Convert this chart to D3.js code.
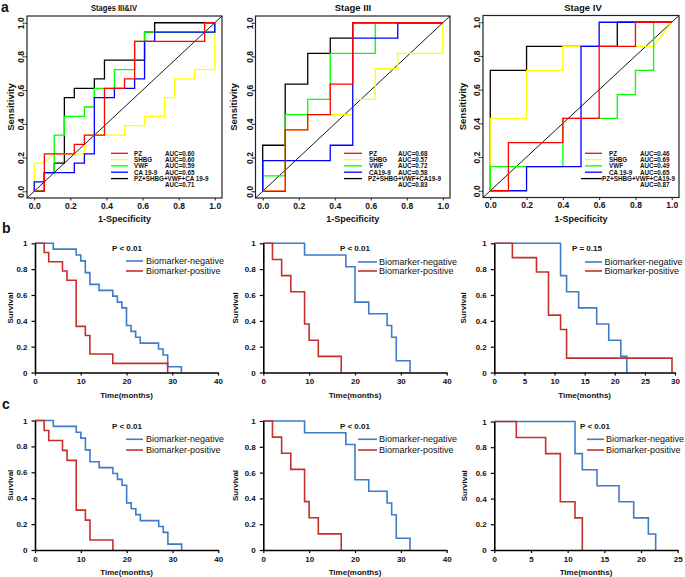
<!DOCTYPE html>
<html><head><meta charset="utf-8">
<script src="https://cdn.jsdelivr.net/npm/d3@7"></script>
<style>
body{margin:0;background:#fff}
svg{display:block;font-family:Arial,"Liberation Sans",sans-serif}
</style>
</head><body>
<svg id="chart" width="685" height="577"></svg>
<script>
// ---------------- DATA ----------------
const rocTitles = ["Stages III&IV", "Stage III", "Stage IV"];
const rocMarkerNames = [
  ["PZ", "SHBG", "VWF", "CA 19-9", "PZ+SHBG+VWF+CA 19-9"],
  ["PZ", "SHBG", "VWF", "CA19-9", "PZ+SHBG+VWF+CA19-9"],
  ["PZ", "SHBG", "VWF", "CA 19-9", "PZ+SHBG+VWF+CA19-9"]
];
const rocAUC = [
  ["0.60", "0.60", "0.59", "0.65", "0.71"],
  ["0.68", "0.57", "0.72", "0.58", "0.83"],
  ["0.46", "0.69", "0.49", "0.65", "0.87"]
];
const rocTicks = [0, 0.2, 0.4, 0.6, 0.8, 1.0];

// ROC curves, vertices [1-specificity, sensitivity]
// Stages III&IV
const roc34PZ = [[0,0],[0.056,0],[0.056,0.222],[0.222,0.222],[0.222,0.278],[0.278,0.278],[0.278,0.333],[0.389,0.333],[0.389,0.611],[0.5,0.611],[0.5,0.667],[0.556,0.667],[0.556,0.889],[0.944,0.889],[0.944,1],[1,1]];
const roc34SHBG = [[0,0],[0,0.167],[0.056,0.167],[0.111,0.222],[0.278,0.222],[0.278,0.333],[0.5,0.333],[0.5,0.389],[0.611,0.389],[0.611,0.444],[0.722,0.444],[0.722,0.556],[0.778,0.556],[0.778,0.667],[0.889,0.667],[0.889,0.722],[1,0.722],[1,1]];
const roc34VWF = [[0,0],[0.056,0],[0.056,0.111],[0.111,0.111],[0.111,0.333],[0.167,0.333],[0.167,0.444],[0.278,0.444],[0.278,0.5],[0.333,0.5],[0.333,0.611],[0.444,0.611],[0.444,0.722],[0.556,0.722],[0.556,0.889],[0.611,0.889],[0.611,0.944],[1,0.944],[1,1]];
const roc34CA = [[0,0],[0,0.056],[0.056,0.056],[0.056,0.111],[0.222,0.111],[0.222,0.167],[0.278,0.167],[0.278,0.222],[0.333,0.222],[0.333,0.556],[0.444,0.556],[0.444,0.611],[0.556,0.611],[0.556,0.667],[0.611,0.667],[0.611,0.889],[0.667,0.889],[0.667,0.944],[1,0.944],[1,1]];
const roc34All = [[0,0],[0.056,0],[0.056,0.111],[0.111,0.111],[0.111,0.167],[0.167,0.167],[0.167,0.556],[0.222,0.556],[0.222,0.611],[0.333,0.611],[0.333,0.667],[0.389,0.667],[0.389,0.778],[0.611,0.778],[0.611,0.944],[0.667,0.944],[0.667,1],[1,1]];
// Stage III
const roc3PZ = [[0,0],[0.125,0],[0.125,0.364],[0.25,0.364],[0.25,0.455],[0.375,0.455],[0.375,0.636],[0.5,0.636],[0.5,1],[1,1]];
const roc3SHBG = [[0,0],[0.125,0],[0.125,0.364],[0.25,0.364],[0.25,0.455],[0.5,0.455],[0.5,0.545],[0.625,0.545],[0.625,0.727],[0.75,0.727],[0.75,0.818],[1,0.818],[1,1]];
const roc3VWF = [[0,0],[0,0.091],[0.125,0.091],[0.125,0.455],[0.25,0.455],[0.25,0.545],[0.375,0.545],[0.375,0.818],[0.625,0.818],[0.625,1],[1,1]];
const roc3CA = [[0,0],[0,0.182],[0.375,0.182],[0.375,0.273],[0.5,0.273],[0.5,0.909],[0.75,0.909],[0.75,1],[1,1]];
const roc3All = [[0,0],[0,0.273],[0.125,0.273],[0.125,0.636],[0.25,0.636],[0.25,0.818],[0.375,0.818],[0.375,0.909],[0.5,0.909],[0.5,1],[1,1]];
// Stage IV
const roc4PZ = [[0,0],[0.1,0],[0.1,0.286],[0.4,0.286],[0.4,0.429],[0.6,0.429],[0.6,0.857],[0.8,0.857],[0.8,1],[1,1]];
const roc4SHBG = [[0,0],[0,0.429],[0.2,0.429],[0.2,0.714],[0.4,0.714],[0.4,0.857],[0.9,0.857],[1,1]];
const roc4VWF = [[0,0],[0,0.143],[0.4,0.143],[0.4,0.429],[0.7,0.429],[0.7,0.571],[0.8,0.571],[0.8,0.714],[0.9,0.714],[0.9,1],[1,1]];
const roc4CA = [[0,0],[0.2,0],[0.2,0.143],[0.5,0.143],[0.5,0.857],[0.6,0.857],[0.6,1],[1,1]];
const roc4All = [[0,0],[0,0.714],[0.2,0.714],[0.2,0.857],[0.7,0.857],[0.7,1],[1,1]];

// Kaplan-Meier curves: event times (months) and survival after each event
const kmTicks = [0, 0.2, 0.4, 0.6, 0.8, 1];
const kmLegend = ["Biomarker-negative", "Biomarker-positive"];
const kmPValues = ["P < 0.01", "P < 0.01", "P = 0.15", "P < 0.01", "P < 0.01", "P < 0.01"];
const kmXTicks40 = [0, 10, 20, 30, 40];
const kmXTicks30 = [0, 5, 10, 15, 20, 25, 30];
const kmXTicks25 = [0, 5, 10, 15, 20, 25];

const kmB1NegTime = [0, 4, 9, 10, 11, 12, 14, 17, 18, 19, 20, 21, 22, 23, 27, 28, 29, 32];
const kmB1NegSurv = [1, 0.955, 0.909, 0.864, 0.773, 0.682, 0.636, 0.591, 0.545, 0.5, 0.364, 0.318, 0.273, 0.227, 0.182, 0.136, 0.045, 0];
const kmB1PosTime = [0, 2, 3, 6, 7, 9, 11, 12, 17, 29];
const kmB1PosSurv = [1, 0.929, 0.857, 0.786, 0.714, 0.357, 0.286, 0.143, 0.071, 0];

const kmB2NegTime = [0, 9, 18, 20, 23, 27, 28, 29, 32];
const kmB2NegSurv = [1, 0.909, 0.818, 0.545, 0.455, 0.364, 0.273, 0.091, 0];
const kmB2PosTime = [0, 2, 4, 6, 9, 10, 12, 17];
const kmB2PosSurv = [1, 0.875, 0.75, 0.625, 0.375, 0.25, 0.125, 0];

const kmB3NegTime = [0, 11, 12, 14, 17, 19, 21, 22];
const kmB3NegSurv = [1, 0.75, 0.625, 0.5, 0.375, 0.25, 0.125, 0];
const kmB3PosTime = [0, 3, 7, 9, 11, 12, 29.5];
const kmB3PosSurv = [1, 0.889, 0.778, 0.444, 0.333, 0.111, 0];

const kmC1NegTime = [0, 4, 9, 10, 11, 12, 14, 17, 18, 19, 20, 21, 22, 23, 27, 28, 29, 32];
const kmC1NegSurv = [1, 0.955, 0.909, 0.864, 0.773, 0.682, 0.636, 0.591, 0.545, 0.5, 0.364, 0.318, 0.273, 0.227, 0.182, 0.136, 0.045, 0];
const kmC1PosTime = [0, 2, 3, 6, 7, 9, 11, 12, 17];
const kmC1PosSurv = [1, 0.923, 0.846, 0.769, 0.692, 0.308, 0.231, 0.077, 0];

const kmC2NegTime = [0, 9, 18, 20, 23, 27, 28, 29, 32];
const kmC2NegSurv = [1, 0.909, 0.818, 0.545, 0.455, 0.364, 0.273, 0.091, 0];
const kmC2PosTime = [0, 2, 4, 6, 9, 10, 12, 17];
const kmC2PosSurv = [1, 0.875, 0.75, 0.625, 0.375, 0.25, 0.125, 0];

const kmC3NegTime = [0, 11, 12, 14, 17, 19, 21, 22];
const kmC3NegSurv = [1, 0.75, 0.625, 0.5, 0.375, 0.25, 0.125, 0];
const kmC3PosTime = [0, 3, 7, 9, 11, 12];
const kmC3PosSurv = [1, 0.875, 0.75, 0.375, 0.25, 0];

// ---------------- STYLE / LAYOUT ----------------
const rocColors = ["#ff0000", "#ffff00", "#00ff00", "#0000ff", "#000000"];
const rocDrawOrder = [4, 1, 2, 3, 0];
const kmNegColor = "#3f7bc8";
const kmPosColor = "#c5302b";
const ink = "#111";

const svg = d3.select("#chart");

// panel letters
[["a", 1, 12], ["b", 2, 233], ["c", 2, 409]].forEach(([t, x, y]) =>
  svg.append("text").attr("x", x).attr("y", y).attr("font-size", 14)
    .attr("font-weight", "bold").attr("fill", ink).text(t));

// ---------------- ROC PANELS ----------------
const rocCurves = [
  [roc34PZ, roc34SHBG, roc34VWF, roc34CA, roc34All],
  [roc3PZ, roc3SHBG, roc3VWF, roc3CA, roc3All],
  [roc4PZ, roc4SHBG, roc4VWF, roc4CA, roc4All]
];
const rocLayout = [
  {l: 27, r: 222, t: 16, b: 198, ylab: 13.7, titleX: 114, titleLen: 46,
   leg: {l0: 111, l1: 128, b0: 111, tx: 134, btx: 134, ax: 165}},
  {l: 255.5, r: 450, t: 16, b: 198, ylab: 237, titleX: 353, titleLen: null,
   leg: {l0: 344, l1: 362, b0: 344, tx: 369, btx: 368, ax: 398}},
  {l: 483, r: 679, t: 15.5, b: 197.5, ylab: 466, titleX: 583, titleLen: null,
   leg: {l0: 585, l1: 602, b0: 581, tx: 609, btx: 602, ax: 640}}
];
const legRows = [153.3, 159.6, 165.9, 172.2, 178.6, 185];

rocLayout.forEach((L, pi) => {
  const g = svg.append("g");
  const x = d3.scaleLinear().domain([-0.04, 1.04]).range([L.l, L.r]);
  const y = d3.scaleLinear().domain([-0.04, 1.04]).range([L.b, L.t]);

  // diagonal reference line
  g.append("line").attr("x1", x(-0.04)).attr("y1", y(-0.04))
    .attr("x2", x(1.04)).attr("y2", y(1.04))
    .attr("stroke", "#000").attr("stroke-width", 0.9);

  const line = d3.line().x(d => x(d[0])).y(d => y(d[1]));
  rocDrawOrder.forEach(ci => {
    g.append("path").datum(rocCurves[pi][ci]).attr("d", line)
      .attr("fill", "none").attr("stroke", rocColors[ci])
      .attr("stroke-width", 1.3);
  });

  // box
  g.append("rect").attr("x", L.l).attr("y", L.t)
    .attr("width", L.r - L.l).attr("height", L.b - L.t)
    .attr("fill", "none").attr("stroke", "#222").attr("stroke-width", 1.2);

  // x axis
  const xa = g.append("g").attr("transform", `translate(0,${L.b})`)
    .call(d3.axisBottom(x).tickValues(rocTicks).tickFormat(d3.format(".1f")).tickSize(2.5).tickSizeOuter(0).tickPadding(2));
  xa.select(".domain").remove();
  xa.selectAll("line").attr("stroke", "#222");
  xa.selectAll("text").attr("font-size", 8.5).attr("font-weight", "bold")
    .attr("font-family", "Arial, 'Liberation Sans', sans-serif").attr("fill", ink);

  // y axis (rotated labels)
  const ya = g.append("g").attr("transform", `translate(${L.l},0)`)
    .call(d3.axisLeft(y).tickValues(rocTicks).tickFormat(d3.format(".1f")).tickSize(2.5).tickSizeOuter(0));
  ya.select(".domain").remove();
  ya.selectAll("line").attr("stroke", "#222");
  ya.selectAll("text").attr("font-size", 8.5).attr("font-weight", "bold")
    .attr("font-family", "Arial, 'Liberation Sans', sans-serif").attr("fill", ink)
    .attr("transform", "rotate(-90)").attr("x", 0).attr("y", -2.6)
    .attr("dy", 0).attr("text-anchor", "middle");

  // titles
  const tt = g.append("text").attr("x", L.titleX).attr("y", 11)
    .attr("text-anchor", "middle").attr("font-size", 9.5).attr("font-weight", "bold")
    .attr("fill", ink).text(rocTitles[pi]);
  if (L.titleLen) tt.attr("textLength", L.titleLen).attr("lengthAdjust", "spacingAndGlyphs");

  g.append("text").attr("transform", `translate(${L.ylab},${(L.t + L.b) / 2}) rotate(-90)`)
    .attr("text-anchor", "middle").attr("font-size", 9.5).attr("font-weight", "bold")
    .attr("fill", ink).text("Sensitivity");
  g.append("text").attr("x", (L.l + L.r) / 2).attr("y", 221.5)
    .attr("text-anchor", "middle").attr("font-size", 9).attr("font-weight", "bold")
    .attr("fill", ink).text("1-Specificity");

  // legend
  const lg = L.leg;
  rocMarkerNames[pi].forEach((name, i) => {
    const ry = legRows[i];
    g.append("line").attr("x1", i === 4 ? lg.b0 : lg.l0).attr("x2", lg.l1)
      .attr("y1", ry).attr("y2", ry).attr("stroke", rocColors[i]).attr("stroke-width", 1.3);
    g.append("text").attr("x", i === 4 ? lg.btx : lg.tx).attr("y", ry + 2.3)
      .attr("font-size", 6.3).attr("font-weight", "bold").attr("fill", ink).text(name);
    const ay = i === 4 ? legRows[5] : ry;
    g.append("text").attr("x", lg.ax).attr("y", ay + 2.3)
      .attr("font-size", 6.3).attr("font-weight", "bold").attr("fill", ink)
      .text("AUC=" + rocAUC[pi][i]);
  });
});

// ---------------- KM PANELS ----------------
const kmData = [
  {neg: [kmB1NegTime, kmB1NegSurv], pos: [kmB1PosTime, kmB1PosSurv], ticks: kmXTicks40},
  {neg: [kmB2NegTime, kmB2NegSurv], pos: [kmB2PosTime, kmB2PosSurv], ticks: kmXTicks40},
  {neg: [kmB3NegTime, kmB3NegSurv], pos: [kmB3PosTime, kmB3PosSurv], ticks: kmXTicks30},
  {neg: [kmC1NegTime, kmC1NegSurv], pos: [kmC1PosTime, kmC1PosSurv], ticks: kmXTicks40},
  {neg: [kmC2NegTime, kmC2NegSurv], pos: [kmC2PosTime, kmC2PosSurv], ticks: kmXTicks40},
  {neg: [kmC3NegTime, kmC3NegSurv], pos: [kmC3PosTime, kmC3PosSurv], ticks: kmXTicks25}
];
const kmLayout = [
  {x0: 35, x1: 218, y0: 372.5, y1: 243.3, survX: 13, pX: 112, pY: 250.5, legL: 126, legR: 143, legT: 146, legY: [261, 271]},
  {x0: 263.3, x1: 446.7, y0: 372.5, y1: 243.3, survX: 238, pX: 340, pY: 250.5, legL: 358, legR: 377, legT: 379, legY: [262, 271]},
  {x0: 494.3, x1: 675, y0: 372.5, y1: 243.3, survX: 466, pX: 572, pY: 250.5, legL: 585, legR: 602, legT: 604.5, legY: [262, 271]},
  {x0: 35, x1: 218.3, y0: 550, y1: 420.5, survX: 13, pX: 112, pY: 428.5, legL: 126, legR: 143, legT: 146, legY: [439.3, 450]},
  {x0: 263.3, x1: 446.7, y0: 550, y1: 421, survX: 238, pX: 340, pY: 428.5, legL: 358, legR: 377, legT: 379, legY: [439.3, 450]},
  {x0: 494.3, x1: 677.7, y0: 550, y1: 421.5, survX: 467, pX: 580, pY: 428.5, legL: 587, legR: 604, legT: 606, legY: [439.3, 450]}
];

kmLayout.forEach((L, pi) => {
  const D = kmData[pi];
  const g = svg.append("g");
  const tmax = D.ticks[D.ticks.length - 1];
  const x = d3.scaleLinear().domain([0, tmax]).range([L.x0, L.x1]);
  const y = d3.scaleLinear().domain([0, 1]).range([L.y0, L.y1]);
  const step = d3.line().x(d => x(d[0])).y(d => y(d[1])).curve(d3.curveStepAfter);

  [[D.neg, kmNegColor], [D.pos, kmPosColor]].forEach(([s, col]) => {
    const pts = s[0].map((t, i) => [t, s[1][i]]);
    g.append("path").datum(pts).attr("d", step).attr("fill", "none")
      .attr("stroke", col).attr("stroke-width", 1.6);
  });

  const xa = g.append("g").attr("transform", `translate(0,${L.y0})`)
    .call(d3.axisBottom(x).tickValues(D.ticks).tickFormat(d3.format("d")).tickSize(3).tickSizeOuter(0).tickPadding(3));
  xa.select(".domain").attr("stroke", "#000").attr("stroke-width", 1.6);
  xa.selectAll("line").attr("stroke", "#000").attr("stroke-width", 1.2);
  xa.selectAll("text").attr("font-size", 8).attr("font-weight", "bold")
    .attr("font-family", "Arial, 'Liberation Sans', sans-serif").attr("fill", ink);

  const ya = g.append("g").attr("transform", `translate(${L.x0},0)`)
    .call(d3.axisLeft(y).tickValues(kmTicks).tickFormat(d3.format("~g")).tickSize(3.5).tickSizeOuter(0).tickPadding(4));
  ya.select(".domain").attr("stroke", "#000").attr("stroke-width", 1.6);
  ya.selectAll("line").attr("stroke", "#000").attr("stroke-width", 1.2);
  ya.selectAll("text").attr("font-size", 8).attr("font-weight", "bold")
    .attr("font-family", "Arial, 'Liberation Sans', sans-serif").attr("fill", ink);

  g.append("text").attr("transform", `translate(${L.survX},${(L.y0 + L.y1) / 2}) rotate(-90)`)
    .attr("text-anchor", "middle").attr("font-size", 8).attr("font-weight", "bold")
    .attr("fill", ink).text("Survival");
  g.append("text").attr("x", (L.x0 + L.x1) / 2).attr("y", L.y0 + 25)
    .attr("text-anchor", "middle").attr("font-size", 8).attr("font-weight", "bold")
    .attr("fill", ink).text("Time(months)");

  g.append("text").attr("x", L.pX).attr("y", L.pY).attr("font-size", 8)
    .attr("font-weight", "bold").attr("fill", ink).text(kmPValues[pi]);

  [kmNegColor, kmPosColor].forEach((col, i) => {
    g.append("line").attr("x1", L.legL).attr("x2", L.legR)
      .attr("y1", L.legY[i]).attr("y2", L.legY[i]).attr("stroke", col).attr("stroke-width", 1.6);
    g.append("text").attr("x", L.legT).attr("y", L.legY[i] + 3).attr("font-size", 9)
      .attr("fill", ink).text(kmLegend[i]);
  });
});
</script>
</body></html>
